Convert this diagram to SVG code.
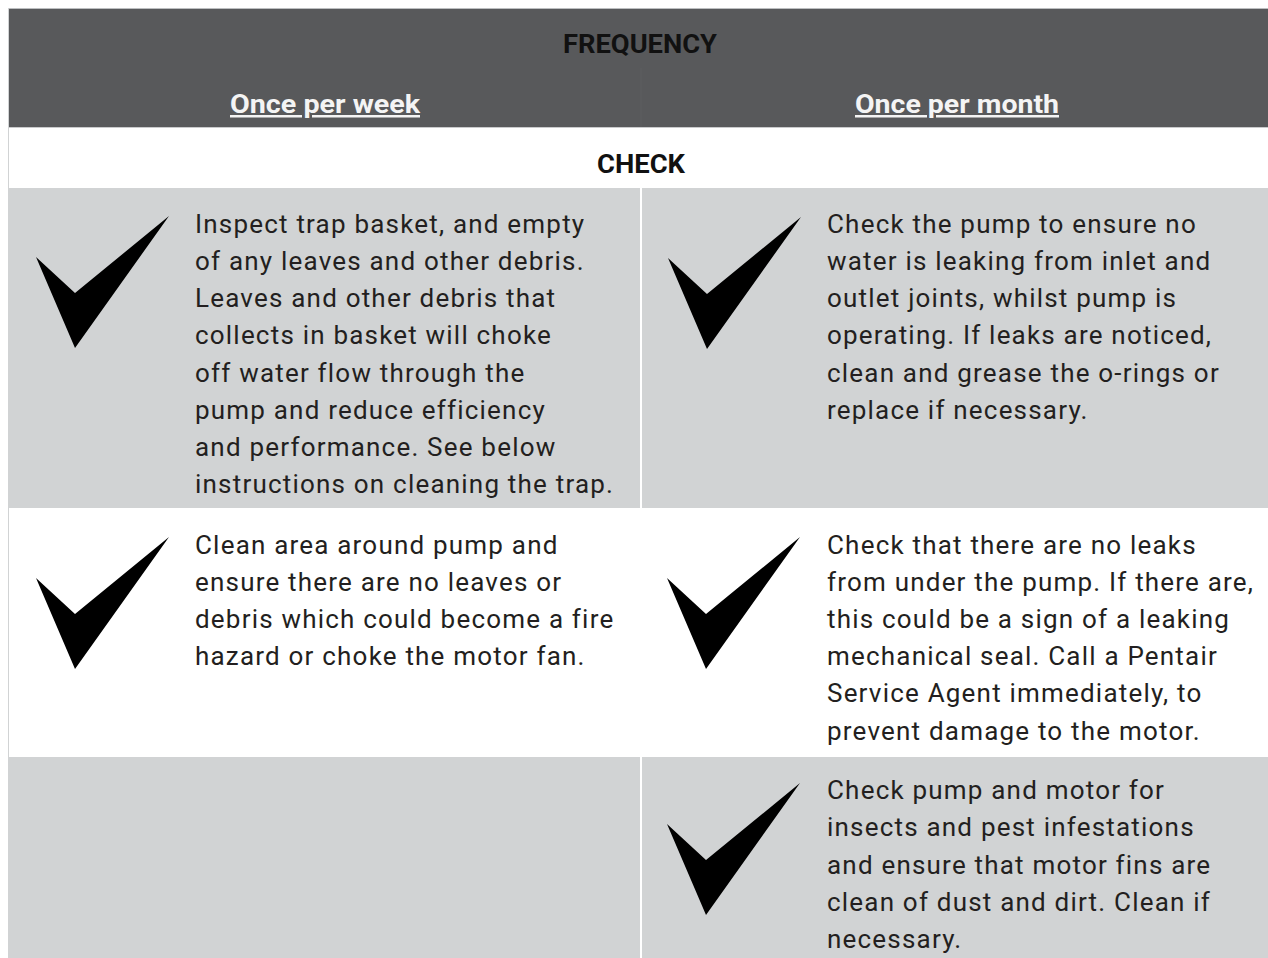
<svg xmlns="http://www.w3.org/2000/svg" xmlns:xlink="http://www.w3.org/1999/xlink" width="1268" height="958" viewBox="0 0 1268 958">
<style>
.body{font-family:Roboto,"Liberation Sans",sans-serif;font-size:26px;letter-spacing:1.2px;fill:#231f20}
.hd{font-family:Roboto,"Liberation Sans",sans-serif;font-size:25px;font-weight:bold;text-anchor:middle}
.sub{fill:#f4f4f4;text-decoration:underline}
.gray{fill:#d1d3d4}
.chk{fill:#000}
</style>
<defs>
<path id="chk" d="M0,0 L39,36 L133,-41 L39,91 Z"/>
</defs>
<rect width="1268" height="958" fill="#ffffff"/>
<g id="header">
<rect x="8" y="8" width="1260" height="119" fill="#58595b"/>
<line x1="8" y1="8.5" x2="1268" y2="8.5" stroke="#bcbec0" stroke-width="1"/>
<line x1="641" y1="68" x2="641" y2="127" stroke="#5d5e60" stroke-width="1"/>
<text class="hd" x="640" y="53" fill="#111111" textLength="154" lengthAdjust="spacingAndGlyphs">FREQUENCY</text>
<text class="hd sub" x="325" y="113" textLength="190" lengthAdjust="spacingAndGlyphs">Once per week</text>
<text class="hd sub" x="957" y="113" textLength="204" lengthAdjust="spacingAndGlyphs">Once per month</text>
</g>
<g id="check-row">
<line x1="8" y1="127.5" x2="1268" y2="127.5" stroke="#c9cacc" stroke-width="1"/>
<text class="hd" x="641" y="173" fill="#111111" textLength="88" lengthAdjust="spacingAndGlyphs">CHECK</text>
</g>
<g id="grid">
<rect class="gray" x="8" y="188" width="632" height="320"/>
<rect class="gray" x="642" y="188" width="626" height="320"/>
<rect class="gray" x="8" y="757" width="632" height="201"/>
<rect class="gray" x="642" y="757" width="626" height="201"/>
<line x1="8.5" y1="8" x2="8.5" y2="958" stroke="#d1d3d4" stroke-width="1"/>
</g>
<g id="r1-left">
<use xlink:href="#chk" x="36" y="257" class="chk"/>
<text class="body"><tspan x="195" y="233">Inspect trap basket, and empty</tspan><tspan x="195" y="270">of any leaves and other debris.</tspan><tspan x="195" y="307">Leaves and other debris that</tspan><tspan x="195" y="344">collects in basket will choke</tspan><tspan x="195" y="382">off water flow through the</tspan><tspan x="195" y="419">pump and reduce efficiency</tspan><tspan x="195" y="456">and performance. See below</tspan><tspan x="195" y="493">instructions on cleaning the trap.</tspan></text>
</g>
<g id="r1-right">
<use xlink:href="#chk" x="668" y="258" class="chk"/>
<text class="body"><tspan x="827" y="233">Check the pump to ensure no</tspan><tspan x="827" y="270">water is leaking from inlet and</tspan><tspan x="827" y="307">outlet joints, whilst pump is</tspan><tspan x="827" y="344">operating. If leaks are noticed,</tspan><tspan x="827" y="382">clean and grease the o-rings or</tspan><tspan x="827" y="419">replace if necessary.</tspan></text>
</g>
<g id="r2-left">
<use xlink:href="#chk" x="36" y="578" class="chk"/>
<text class="body"><tspan x="195" y="554">Clean area around pump and</tspan><tspan x="195" y="591">ensure there are no leaves or</tspan><tspan x="195" y="628">debris which could become a fire</tspan><tspan x="195" y="665">hazard or choke the motor fan.</tspan></text>
</g>
<g id="r2-right">
<use xlink:href="#chk" x="667" y="578" class="chk"/>
<text class="body"><tspan x="827" y="554">Check that there are no leaks</tspan><tspan x="827" y="591">from under the pump. If there are,</tspan><tspan x="827" y="628">this could be a sign of a leaking</tspan><tspan x="827" y="665">mechanical seal. Call a Pentair</tspan><tspan x="827" y="702">Service Agent immediately, to</tspan><tspan x="827" y="740">prevent damage to the motor.</tspan></text>
</g>
<g id="r3-right">
<use xlink:href="#chk" x="667" y="824" class="chk"/>
<text class="body"><tspan x="827" y="799">Check pump and motor for</tspan><tspan x="827" y="836">insects and pest infestations</tspan><tspan x="827" y="874">and ensure that motor fins are</tspan><tspan x="827" y="911">clean of dust and dirt. Clean if</tspan><tspan x="827" y="948">necessary.</tspan></text>
</g>
</svg>
